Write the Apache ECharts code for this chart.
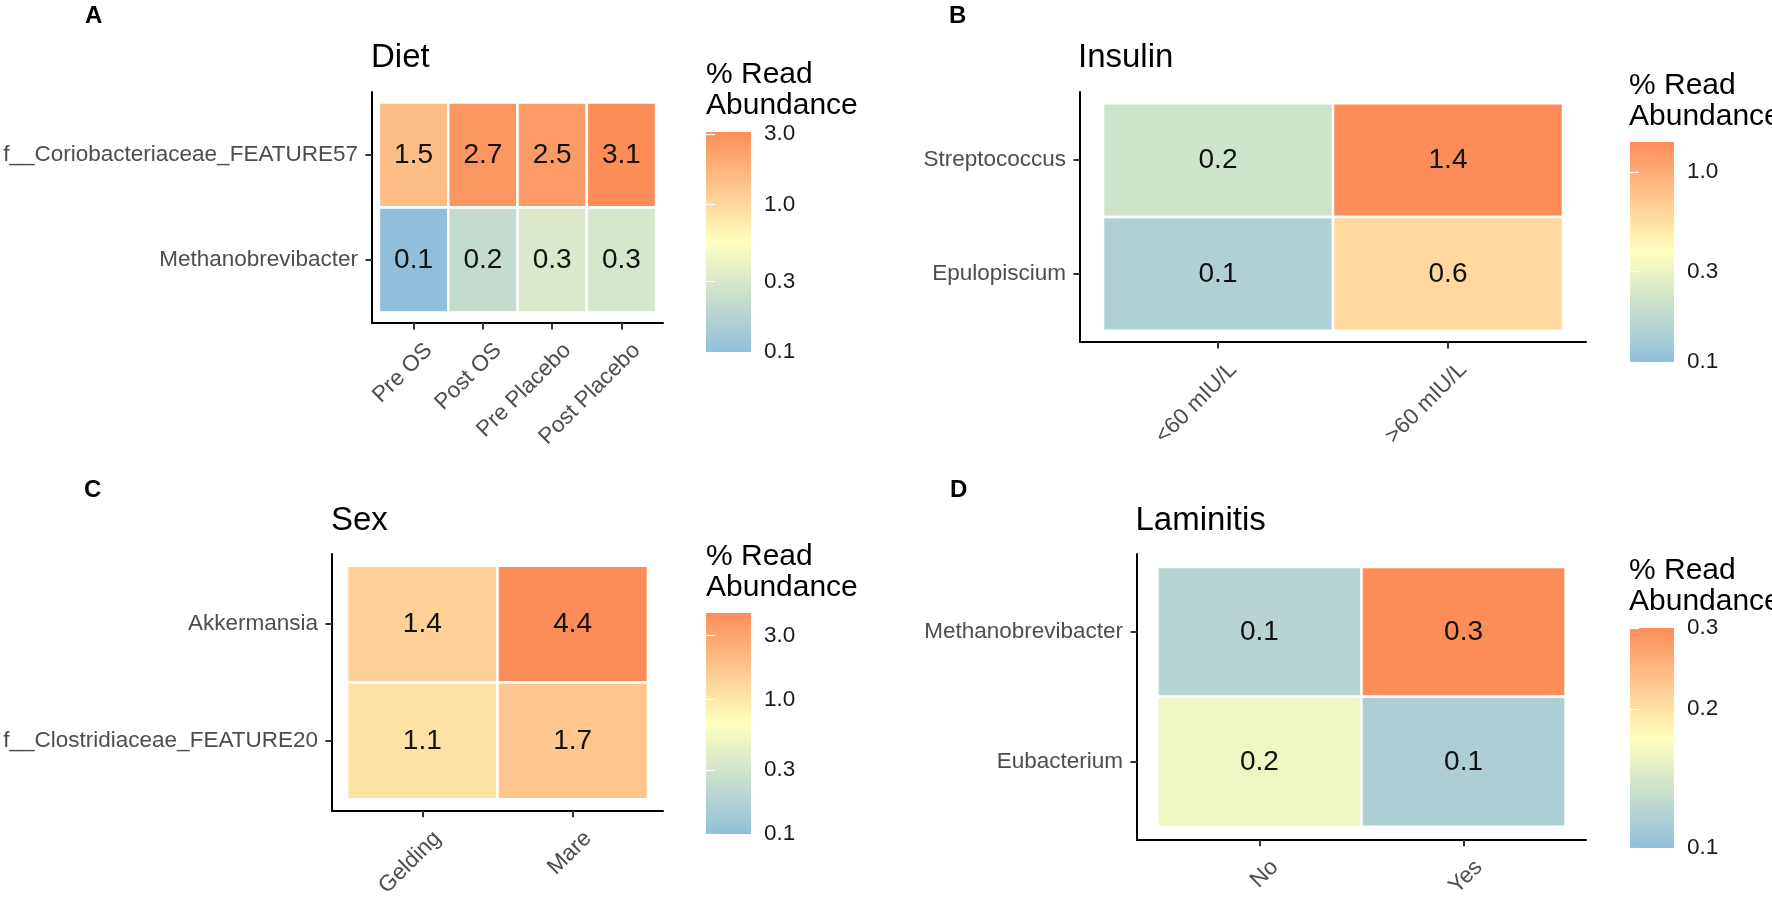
<!DOCTYPE html>
<html>
<head>
<meta charset="utf-8">
<script src="https://cdn.jsdelivr.net/npm/echarts@6/dist/echarts.min.js"></script>
<style>
html,body{margin:0;padding:0;background:#fff;}
#chart{width:1772px;height:900px;}
</style>
</head>
<body>
<div id="chart"></div>
<script>
// ---------------- data ----------------
const dietGroups = ['Pre OS', 'Post OS', 'Pre Placebo', 'Post Placebo'];
const dietTaxa = ['f__Coriobacteriaceae_FEATURE57', 'Methanobrevibacter']; // top -> bottom
const dietValues = [[1.5, 2.7, 2.5, 3.1], [0.1, 0.22, 0.31, 0.29]];
const dietScale = [0.1, 3.1];
const dietBreaks = [0.1, 0.3, 1.0, 3.0];

const insulinGroups = ['<60 mIU/L', '>60 mIU/L'];
const insulinTaxa = ['Streptococcus', 'Epulopiscium'];
const insulinValues = [[0.21, 1.44], [0.145, 0.6]];
const insulinScale = [0.1, 1.44];
const insulinBreaks = [0.1, 0.3, 1.0];

const sexGroups = ['Gelding', 'Mare'];
const sexTaxa = ['Akkermansia', 'f__Clostridiaceae_FEATURE20'];
const sexValues = [[1.4, 4.4], [1.1, 1.7]];
const sexScale = [0.1, 4.4];
const sexBreaks = [0.1, 0.3, 1.0, 3.0];

const laminitisGroups = ['No', 'Yes'];
const laminitisTaxa = ['Methanobrevibacter', 'Eubacterium'];
const laminitisValues = [[0.12, 0.3], [0.16, 0.115]];
const laminitisScale = [0.1, 0.3];
const laminitisBreaks = [0.1, 0.2, 0.3];

const panelLetters = ['A', 'B', 'C', 'D'];
const panelTitles = ['Diet', 'Insulin', 'Sex', 'Laminitis'];
const legendTitle = '% Read\nAbundance';
const paletteColors = ['#91bfdb', '#ffffbf', '#fc8d59'];

// ---------------- layout ----------------
const FONT = '"Liberation Sans", Arial, Helvetica, sans-serif';
const layouts = [
  {grid: {left: 372, top: 92, width: 291, height: 231}, bar: {left: 706, top: 132, width: 45, height: 220},
   letter: [85, 4], title: [371, 41.5], legend: [706, 59]},
  {grid: {left: 1080, top: 92, width: 506, height: 250}, bar: {left: 1630, top: 142, width: 44, height: 220},
   letter: [949, 4], title: [1078, 41.5], legend: [1629, 70]},
  {grid: {left: 332, top: 554, width: 331, height: 270}, bar: {left: 706, top: 613, width: 45, height: 221},
   letter: [84, 478], title: [331, 504.5], legend: [706, 541]},
  {grid: {left: 1137, top: 554, width: 449, height: 298}, bar: {left: 1630, top: 628, width: 44, height: 220},
   letter: [950, 478], title: [1135.5, 504.5], legend: [1629, 555]}
];

const panels = [
  {groups: dietGroups, taxa: dietTaxa, values: dietValues, scale: dietScale, breaks: dietBreaks},
  {groups: insulinGroups, taxa: insulinTaxa, values: insulinValues, scale: insulinScale, breaks: insulinBreaks},
  {groups: sexGroups, taxa: sexTaxa, values: sexValues, scale: sexScale, breaks: sexBreaks},
  {groups: laminitisGroups, taxa: laminitisTaxa, values: laminitisValues, scale: laminitisScale, breaks: laminitisBreaks}
];

const option = {
  backgroundColor: '#fff',
  animation: false,
  title: [], grid: [], xAxis: [], yAxis: [], series: [], visualMap: []
};

function cellRender(params, api) {
  const x = api.value(0), y = api.value(1), v = api.value(2);
  const p0 = api.coord([x - 0.5, y - 0.5]);
  const p1 = api.coord([x + 0.5, y + 0.5]);
  const rx = Math.min(p0[0], p1[0]), ry = Math.min(p0[1], p1[1]);
  const w = Math.abs(p1[0] - p0[0]), h = Math.abs(p1[1] - p0[1]);
  return {
    type: 'group',
    children: [
      {type: 'rect', shape: {x: rx, y: ry, width: w, height: h},
       style: {fill: api.visual('color'), stroke: '#ffffff', lineWidth: 2.5}},
      {type: 'text', style: {text: v.toFixed(1), x: rx + w / 2, y: ry + h / 2, align: 'center', verticalAlign: 'middle',
        fontSize: 28, fontFamily: FONT, fill: '#111'}}
    ]
  };
}

function barRender(params, api) {
  const p0 = api.coord([api.value(0), api.value(1)]);
  const p1 = api.coord([api.value(2), api.value(3)]);
  const rx = Math.min(p0[0], p1[0]), ry = Math.min(p0[1], p1[1]);
  return {
    type: 'rect',
    shape: {x: rx, y: ry, width: Math.abs(p1[0] - p0[0]), height: Math.abs(p1[1] - p0[1])},
    style: {fill: {type: 'linear', x: 0, y: 1, x2: 0, y2: 0, colorStops: [
      {offset: 0, color: paletteColors[0]}, {offset: 0.5, color: paletteColors[1]}, {offset: 1, color: paletteColors[2]}]}}
  };
}

panels.forEach(function (p, i) {
  const L = layouts[i];
  const nx = p.groups.length, ny = p.taxa.length;
  const xs = p.groups.map((_, k) => k + 1);
  const ys = p.taxa.map((_, k) => k + 1);
  const lmin = Math.log10(p.scale[0]), lmax = Math.log10(p.scale[1]);
  const logBreaks = p.breaks.map(b => Math.log10(b));

  option.title.push({text: panelLetters[i], left: L.letter[0], top: L.letter[1], padding: 0,
    textStyle: {fontSize: 24, fontWeight: 'bold', color: '#000', fontFamily: FONT, lineHeight: 24}});
  option.title.push({text: panelTitles[i], left: L.title[0], top: L.title[1], padding: 0,
    textStyle: {fontSize: 33, fontWeight: 'normal', color: '#000', fontFamily: FONT, lineHeight: 33}});
  option.title.push({text: legendTitle, left: L.legend[0], top: L.legend[1], padding: 0,
    textStyle: {fontSize: 30, fontWeight: 'normal', color: '#000', fontFamily: FONT, lineHeight: 31}});

  option.grid.push(Object.assign({containLabel: false}, L.grid));
  option.grid.push(Object.assign({containLabel: false}, L.bar));
  const gHeat = 2 * i, gBar = 2 * i + 1;

  option.xAxis.push({
    gridIndex: gHeat, type: 'value', min: 0.4, max: nx + 0.6, position: 'bottom',
    axisLine: {show: true, onZero: false, lineStyle: {color: '#000', width: 2}},
    axisTick: {show: true, customValues: xs, length: 6.5, lineStyle: {color: '#333', width: 2}},
    axisLabel: {show: true, customValues: xs, formatter: v => p.groups[Math.round(v) - 1], rotate: 45,
      verticalAlign: 'top', margin: 23, padding: [0, -10, 0, 0], fontSize: 22.5, color: '#4d4d4d', fontFamily: FONT},
    splitLine: {show: false}
  });
  option.xAxis.push({gridIndex: gBar, type: 'value', min: 0, max: 1, show: false});

  option.yAxis.push({
    gridIndex: gHeat, type: 'value', min: 0.4, max: ny + 0.6, inverse: true, position: 'left',
    axisLine: {show: true, onZero: false, lineStyle: {color: '#000', width: 2}},
    axisTick: {show: true, customValues: ys, length: 6.5, lineStyle: {color: '#333', width: 2}},
    axisLabel: {show: true, customValues: ys, formatter: v => p.taxa[Math.round(v) - 1], margin: 14,
      fontSize: 22.5, color: '#4d4d4d', fontFamily: FONT},
    splitLine: {show: false}
  });
  option.yAxis.push({
    gridIndex: gBar, type: 'value', min: lmin, max: lmax, position: 'right', z: 10,
    axisLine: {show: false},
    axisTick: {show: true, inside: true, customValues: logBreaks, length: 9, lineStyle: {color: '#fff', width: 1.2}},
    axisLabel: {show: true, customValues: logBreaks, formatter: v => Math.pow(10, v).toFixed(1), margin: 13,
      fontSize: 22.5, color: '#1a1a1a', fontFamily: FONT},
    splitLine: {show: false}
  });
  option.yAxis.push({
    gridIndex: gBar, type: 'value', min: lmin, max: lmax, position: 'left', z: 10,
    axisLine: {show: false},
    axisTick: {show: true, inside: true, customValues: logBreaks, length: 9, lineStyle: {color: '#fff', width: 1.2}},
    axisLabel: {show: false},
    splitLine: {show: false}
  });

  const cells = [];
  p.values.forEach(function (row, r) {
    row.forEach(function (v, c) { cells.push([c + 1, r + 1, v, Math.log10(v)]); });
  });
  const sIdx = option.series.length;
  option.series.push({
    type: 'custom', xAxisIndex: gHeat, yAxisIndex: 3 * i, data: cells, encode: {x: 0, y: 1},
    renderItem: cellRender, z: 2, silent: true
  });
  option.series.push({
    type: 'custom', xAxisIndex: gBar, yAxisIndex: 3 * i + 1, data: [[0, lmin, 1, lmax]],
    encode: {x: [0, 2], y: [1, 3]}, renderItem: barRender, z: 1, silent: true
  });
  option.visualMap.push({
    type: 'continuous', show: false, seriesIndex: sIdx, dimension: 3, min: lmin, max: lmax,
    inRange: {color: paletteColors}
  });
});

const chart = echarts.init(document.getElementById('chart'), null, {renderer: 'canvas'});
chart.setOption(option);
</script>
</body>
</html>
